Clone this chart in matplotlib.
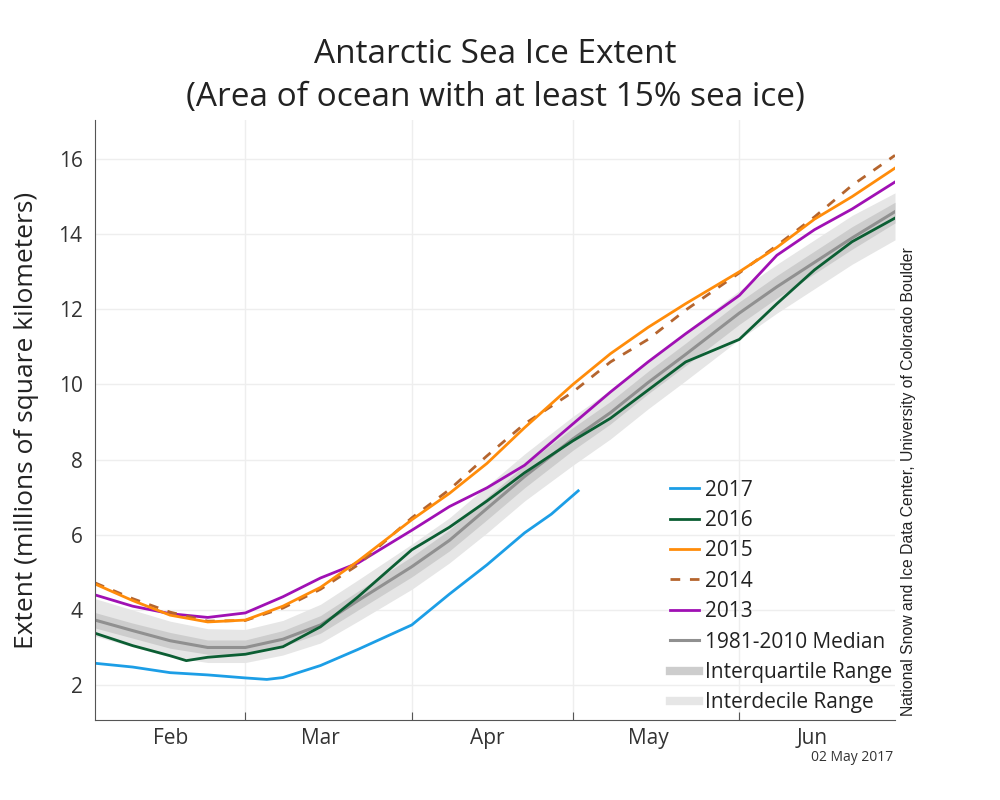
import matplotlib.pyplot as plt
import numpy as np
from matplotlib.lines import Line2D

plt.rcParams['font.family'] = ['Open Sans', 'DejaVu Sans']

# day of year (Jan 1 = 0)
days = [31, 38, 45, 52, 59, 66, 73, 80, 90, 97, 104, 111, 120, 127, 134, 141, 151, 158, 165, 172, 180]

median = [3.73, 3.45, 3.18, 3.0, 3.0, 3.22, 3.6, 4.25, 5.15, 5.85, 6.7, 7.55, 8.55, 9.25, 10.05, 10.8, 11.9, 12.6, 13.25, 13.9, 14.6]
iqr_lo = [3.52, 3.25, 2.98, 2.82, 2.82, 3.03, 3.38, 4.0, 4.88, 5.57, 6.4, 7.25, 8.25, 8.95, 9.75, 10.5, 11.6, 12.3, 12.95, 13.6, 14.3]
iqr_hi = [3.93, 3.65, 3.4, 3.2, 3.2, 3.45, 3.85, 4.5, 5.42, 6.13, 7.0, 7.85, 8.85, 9.55, 10.35, 11.1, 12.2, 12.9, 13.55, 14.2, 14.85]
idr_lo = [3.3, 3.02, 2.75, 2.6, 2.6, 2.8, 3.12, 3.7, 4.55, 5.25, 6.05, 6.9, 7.85, 8.55, 9.35, 10.1, 11.2, 11.9, 12.55, 13.2, 13.85]
idr_hi = [4.3, 4.0, 3.7, 3.5, 3.48, 3.72, 4.15, 4.8, 5.75, 6.45, 7.3, 8.15, 9.15, 9.85, 10.65, 11.4, 12.5, 13.2, 13.85, 14.5, 15.1]

days_2017 = [31, 38, 45, 52, 59, 63, 66, 73, 80, 90, 97, 104, 111, 116, 121]
y2017 = [2.58, 2.48, 2.33, 2.27, 2.19, 2.15, 2.2, 2.52, 2.95, 3.6, 4.42, 5.2, 6.05, 6.55, 7.17]

days_2016 = [31, 38, 45, 48, 52, 59, 66, 73, 80, 90, 97, 104, 111, 120, 127, 134, 141, 151, 158, 165, 172, 180]
y2016 = [3.38, 3.05, 2.78, 2.65, 2.74, 2.82, 3.02, 3.55, 4.35, 5.6, 6.2, 6.9, 7.65, 8.5, 9.1, 9.85, 10.6, 11.2, 12.15, 13.05, 13.8, 14.43]

y2015 = [4.69, 4.25, 3.86, 3.68, 3.73, 4.1, 4.6, 5.3, 6.4, 7.1, 7.9, 8.85, 10.0, 10.82, 11.52, 12.15, 13.0, 13.65, 14.4, 15.0, 15.76]
y2014 = [4.72, 4.3, 3.94, 3.7, 3.72, 4.05, 4.55, 5.2, 6.45, 7.2, 8.1, 8.95, 9.8, 10.6, 11.2, 11.98, 12.97, 13.7, 14.46, 15.3, 16.1]
y2013 = [4.4, 4.1, 3.9, 3.8, 3.92, 4.35, 4.85, 5.25, 6.12, 6.75, 7.25, 7.85, 8.95, 9.8, 10.6, 11.35, 12.37, 13.44, 14.12, 14.67, 15.39]

month_edges = [59, 90, 120, 151]
month_mids = [45, 73, 104, 134, 164.5]
month_names = ['Feb', 'Mar', 'Apr', 'May', 'Jun']

fig = plt.figure(figsize=(10, 8), dpi=100)
ax = fig.add_axes([0.095, 0.1, 0.80, 0.75])

ax.fill_between(days, idr_lo, idr_hi, color='#e6e6e6', lw=0, label='Interdecile Range')
ax.fill_between(days, iqr_lo, iqr_hi, color='#cdcdcd', lw=0, label='Interquartile Range')
ax.plot(days, median, color='#909090', lw=2.2, label='1981-2010 Median')

ax.plot(days, y2013, color='#a010b4', lw=2, label='2013')
ax.plot(days, y2014, color='#b5652e', lw=2, dashes=(3.5, 3.5), label='2014')
ax.plot(days, y2015, color='#ff8c0a', lw=2, label='2015')
ax.plot(days_2016, y2016, color='#0b5e33', lw=2, label='2016')
ax.plot(days_2017, y2017, color='#1c9ee6', lw=2, label='2017')

ax.set_xlim(31, 180)
ax.set_ylim(1.07, 17.04)
ax.set_yticks(np.arange(2, 17, 2))
ax.tick_params(axis='y', length=0, labelsize=15, pad=9, labelcolor='#333333')

ax.set_xticks(month_edges)
ax.set_xticklabels([])
ax.set_xticks(month_mids, minor=True)
ax.set_xticklabels(month_names, minor=True)
ax.tick_params(axis='x', which='major', direction='in', length=6, color='#555555')
ax.tick_params(axis='x', which='minor', length=0, labelsize=15, pad=6, labelcolor='#333333')

ax.grid(True, which='major', color='#eeeeee', lw=1)
ax.set_axisbelow(True)
for s in ['top', 'right']:
    ax.spines[s].set_visible(False)
ax.spines['left'].set_color('#555555')
ax.spines['bottom'].set_color('#555555')

ax.set_ylabel('Extent (millions of square kilometers)', fontsize=19, color='#222222', labelpad=14)
ax.set_title('Antarctic Sea Ice Extent\n(Area of ocean with at least 15% sea ice)',
             fontsize=24, color='#222222', pad=10, linespacing=1.4)

handles, labels = ax.get_legend_handles_labels()
order = ['2017', '2016', '2015', '2014', '2013', '1981-2010 Median', 'Interquartile Range', 'Interdecile Range']
proxy = {
    'Interquartile Range': Line2D([0], [0], color='#cdcdcd', lw=6),
    'Interdecile Range': Line2D([0], [0], color='#e6e6e6', lw=6),
}
hmap = dict(zip(labels, handles))
hl = [proxy.get(k, hmap[k]) for k in order]
leg = ax.legend(hl, order, loc='lower right', bbox_to_anchor=(1.02, -0.02), frameon=False,
                fontsize=15, handlelength=1.4, handletextpad=0.3, labelspacing=0.45,
                labelcolor='#222222')

fig.text(0.908, 0.105, 'National Snow and Ice Data Center, University of Colorado Boulder',
         rotation=90, fontsize=11.3, family=['Liberation Sans', 'DejaVu Sans'],
         color='#222222', ha='center', va='bottom')
fig.text(0.893, 0.053, '02 May 2017', fontsize=10, ha='right', va='center', color='#333333')

fig.savefig('out.png', dpi=100)
